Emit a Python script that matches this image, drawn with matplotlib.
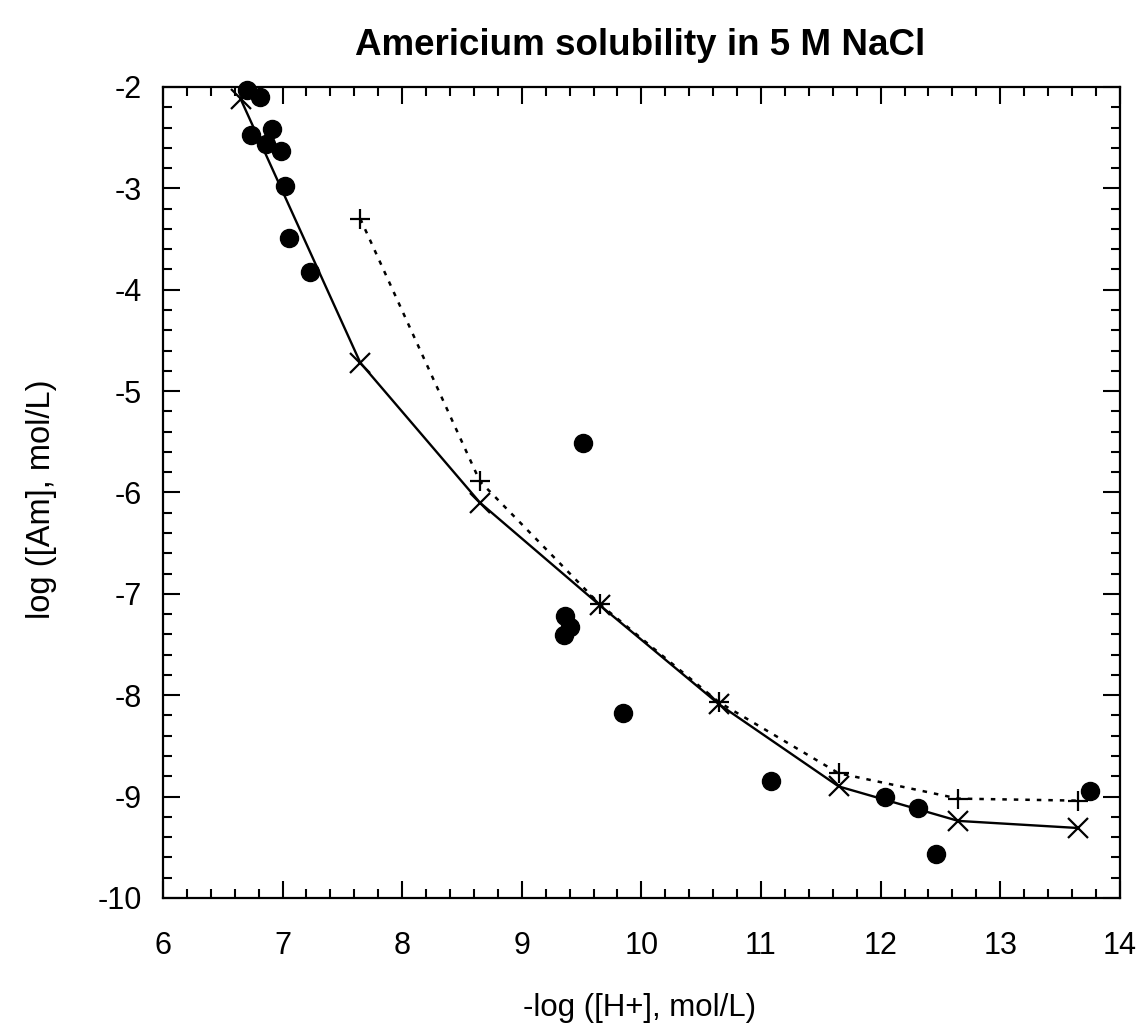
import matplotlib
matplotlib.use("Agg")
import matplotlib.pyplot as plt
from matplotlib.ticker import MultipleLocator

plt.rcParams['font.family'] = ['Liberation Sans', 'DejaVu Sans']
plt.rcParams['axes.unicode_minus'] = False

# Experimental data (filled circles)
exp_x = [6.70, 6.81, 6.74, 6.91, 6.86, 6.99, 7.02, 7.05, 7.23,
         9.51, 9.36, 9.40, 9.35, 9.85, 11.08, 12.04, 12.31, 12.46, 13.75]
exp_y = [-2.03, -2.10, -2.47, -2.41, -2.56, -2.63, -2.98, -3.49, -3.83,
         -5.51, -7.22, -7.33, -7.41, -8.18, -8.85, -9.00, -9.11, -9.57, -8.94]

# Model (solid line, x markers)
model1_x = [6.65, 7.65, 8.65, 9.65, 10.65, 11.65, 12.65, 13.65]
model1_y = [-2.12, -4.72, -6.10, -7.11, -8.09, -8.90, -9.24, -9.31]

# Model (dotted line, + markers)
model2_x = [7.65, 8.65, 9.65, 10.65, 11.65, 12.65, 13.65]
model2_y = [-3.30, -5.89, -7.10, -8.07, -8.77, -9.02, -9.04]

title = 'Americium solubility in 5 M NaCl'
xlabel = '-log ([H+], mol/L)'
ylabel = 'log ([Am], mol/L)'

fig = plt.figure(figsize=(11.38, 10.28), dpi=100)
ax = fig.add_axes([0.1432, 0.1265, 0.8408, 0.7889])

ax.plot(model1_x, model1_y, color='black', lw=1.7, marker='x',
        markersize=15, markeredgewidth=1.6, clip_on=False, zorder=3)
ax.plot(model2_x, model2_y, color='black', lw=1.8, linestyle=(0, (1.8, 2.8)),
        marker='+', markersize=15, markeredgewidth=1.6, clip_on=False, zorder=3)
ax.plot(exp_x, exp_y, linestyle='none', marker='o', color='black',
        markersize=13, clip_on=False, zorder=4)

ax.set_xlim(6, 14)
ax.set_ylim(-10, -2)
ax.xaxis.set_major_locator(MultipleLocator(1))
ax.xaxis.set_minor_locator(MultipleLocator(0.2))
ax.yaxis.set_major_locator(MultipleLocator(1))
ax.yaxis.set_minor_locator(MultipleLocator(0.2))
ax.tick_params(which='both', direction='in', top=True, right=True,
               width=1.5, labelsize=22, colors='black')
ax.tick_params(which='major', length=12)
ax.tick_params(axis='x', which='major', pad=24)
ax.tick_params(axis='y', which='major', pad=15)
ax.tick_params(which='minor', length=6.5)
for s in ax.spines.values():
    s.set_linewidth(1.6)

fig.text(0.5624, 0.0195, xlabel, ha='center', va='center', fontsize=22.5)
fig.text(0.0369, 0.5146, ylabel, ha='center', va='center', fontsize=23.5,
         rotation=90)
fig.text(0.5624, 0.956, title, ha='center', va='center', fontsize=26.5,
         fontweight='bold')

fig.savefig('out.png', dpi=100, facecolor='white')
